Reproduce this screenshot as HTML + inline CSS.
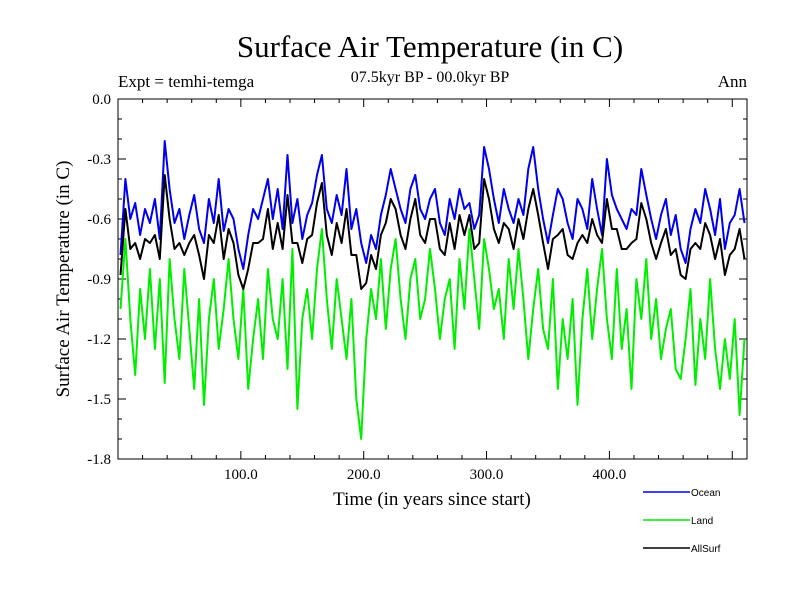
<!DOCTYPE html>
<html><head><meta charset="utf-8"><style>
body{margin:0;background:#fff;}
svg{display:block;font-family:"Liberation Serif",serif;}
</style></head><body>
<svg id="chart" width="800" height="600" viewBox="0 0 800 600">
<rect width="800" height="600" fill="#fff"/>
<text x="430" y="57" font-size="31" text-anchor="middle">Surface Air Temperature (in C)</text>
<text x="118" y="87" font-size="17">Expt = temhi-temga</text>
<text x="430" y="82" font-size="16" text-anchor="middle">07.5kyr BP - 00.0kyr BP</text>
<text x="747" y="87" font-size="17" text-anchor="end">Ann</text>
<text transform="translate(69,279) rotate(-90)" font-size="19" text-anchor="middle">Surface Air Temperature (in C)</text>
<text x="432" y="505" font-size="19" text-anchor="middle">Time (in years since start)</text>
<g id="axes"></g>
<g id="series"></g>
<g id="legend" font-family="Liberation Sans, sans-serif" font-size="10"></g>
</svg>
<script>
const years=[];for(let i=0;i<128;i++)years.push(2+4*i);
const ocean=[-0.78,-0.4,-0.6,-0.52,-0.68,-0.55,-0.62,-0.5,-0.7,-0.21,-0.45,-0.62,-0.55,-0.7,-0.58,-0.48,
-0.65,-0.72,-0.5,-0.62,-0.4,-0.66,-0.55,-0.6,-0.75,-0.85,-0.68,-0.55,-0.6,-0.5,-0.4,-0.6,
-0.45,-0.65,-0.28,-0.62,-0.5,-0.7,-0.58,-0.52,-0.38,-0.28,-0.55,-0.62,-0.48,-0.58,-0.35,-0.65,
-0.55,-0.72,-0.82,-0.68,-0.75,-0.58,-0.48,-0.35,-0.45,-0.55,-0.62,-0.45,-0.38,-0.55,-0.6,-0.5,
-0.45,-0.62,-0.68,-0.5,-0.6,-0.45,-0.55,-0.52,-0.65,-0.58,-0.24,-0.35,-0.5,-0.62,-0.45,-0.55,
-0.62,-0.5,-0.58,-0.35,-0.24,-0.45,-0.6,-0.72,-0.58,-0.45,-0.5,-0.62,-0.7,-0.5,-0.55,-0.65,
-0.4,-0.55,-0.68,-0.3,-0.48,-0.55,-0.6,-0.65,-0.55,-0.58,-0.35,-0.48,-0.6,-0.7,-0.58,-0.5,
-0.68,-0.58,-0.75,-0.82,-0.65,-0.55,-0.62,-0.45,-0.55,-0.68,-0.5,-0.75,-0.62,-0.58,-0.45,-0.62];
const land=[-1.05,-0.7,-1.1,-1.38,-0.95,-1.2,-0.85,-1.25,-0.9,-1.42,-0.8,-1.1,-1.3,-0.85,-1.15,-1.45,
-1.0,-1.53,-1.1,-0.9,-1.25,-1.05,-0.8,-1.1,-1.3,-0.95,-1.45,-1.2,-1.0,-1.3,-0.85,-1.1,
-1.2,-0.9,-1.35,-0.75,-1.55,-1.1,-0.95,-1.2,-0.85,-0.65,-1.0,-1.25,-0.9,-1.1,-1.3,-1.0,
-1.5,-1.7,-1.2,-0.95,-1.1,-0.8,-1.15,-0.85,-0.7,-1.0,-1.2,-0.9,-0.8,-1.1,-1.0,-0.75,
-0.95,-1.2,-1.0,-0.9,-1.25,-0.8,-1.05,-0.65,-0.9,-1.15,-0.7,-0.85,-1.05,-0.95,-1.2,-0.8,
-1.05,-0.75,-1.0,-1.3,-1.05,-0.85,-1.15,-1.25,-0.9,-1.45,-1.1,-1.3,-1.0,-1.53,-1.1,-0.85,
-1.2,-0.95,-0.75,-1.1,-1.3,-0.85,-1.25,-1.05,-1.45,-0.9,-1.1,-0.8,-1.2,-1.0,-1.3,-1.15,
-1.05,-1.35,-1.4,-1.2,-0.95,-1.43,-1.1,-1.3,-0.9,-1.25,-1.45,-1.2,-1.4,-1.1,-1.58,-1.2];
const allsurf=[-0.88,-0.55,-0.75,-0.72,-0.8,-0.7,-0.72,-0.68,-0.8,-0.38,-0.6,-0.75,-0.72,-0.78,-0.72,-0.68,
-0.78,-0.9,-0.68,-0.72,-0.58,-0.8,-0.65,-0.72,-0.88,-0.95,-0.85,-0.72,-0.72,-0.7,-0.55,-0.75,
-0.62,-0.75,-0.48,-0.72,-0.72,-0.82,-0.7,-0.68,-0.52,-0.42,-0.68,-0.78,-0.62,-0.72,-0.55,-0.78,
-0.78,-0.95,-0.92,-0.78,-0.85,-0.68,-0.62,-0.5,-0.55,-0.68,-0.75,-0.6,-0.5,-0.68,-0.72,-0.6,
-0.6,-0.75,-0.78,-0.62,-0.75,-0.58,-0.68,-0.58,-0.75,-0.72,-0.4,-0.5,-0.65,-0.72,-0.62,-0.65,
-0.75,-0.6,-0.7,-0.55,-0.45,-0.58,-0.72,-0.85,-0.7,-0.68,-0.65,-0.78,-0.8,-0.72,-0.68,-0.72,
-0.6,-0.68,-0.72,-0.5,-0.65,-0.65,-0.75,-0.75,-0.72,-0.7,-0.52,-0.6,-0.72,-0.8,-0.72,-0.65,
-0.78,-0.75,-0.88,-0.9,-0.75,-0.72,-0.75,-0.62,-0.68,-0.8,-0.7,-0.88,-0.78,-0.75,-0.65,-0.8];
const yTicks=[0.0,-0.3,-0.6,-0.9,-1.2,-1.5,-1.8];
const yTickLabels=["0.0","-0.3","-0.6","-0.9","-1.2","-1.5","-1.8"];
const xTicks=[100,200,300,400];
const xTickLabels=["100.0","200.0","300.0","400.0"];
const seriesNames=["Ocean","Land","AllSurf"];

const L=118,R=747,T=99,B=459,X0=0,X1=512,Y0=-1.8,Y1=0;
const sx=v=>L+(v-X0)/(X1-X0)*(R-L);
const sy=v=>B-(v-Y0)/(Y1-Y0)*(B-T);
const NS="http://www.w3.org/2000/svg";
function mk(tag,attrs,parent){const e=document.createElementNS(NS,tag);for(const k in attrs)e.setAttribute(k,attrs[k]);parent.appendChild(e);return e;}
const ax=document.getElementById('axes');
const frame=mk('rect',{x:L,y:T,width:R-L,height:B-T,fill:'none',stroke:'#000','stroke-width':1},ax);


for(let v=0;v>=-1.8001;v-=0.1){const y=sy(v);const major=Math.abs(Math.round(v*10)%3)===0;const len=major?8:4;
 const t1=mk('line',{x1:L,x2:L+len,y1:y,y2:y,stroke:'#000'},ax);
 const t2=mk('line',{x1:R-len,x2:R,y1:y,y2:y,stroke:'#000'},ax);}
yTicks.forEach((v,i)=>{const t=mk('text',{x:L-7,y:sy(v)+5,'font-size':15,'text-anchor':'end'},ax);t.textContent=yTickLabels[i];
 });
for(let v=20;v<X1;v+=20){const x=sx(v);const len=v%100===0?8:4;
 const t1=mk('line',{x1:x,x2:x,y1:B,y2:B-len,stroke:'#000'},ax);
 const t2=mk('line',{x1:x,x2:x,y1:T,y2:T+len,stroke:'#000'},ax);}
xTicks.forEach((v,i)=>{const t=mk('text',{x:sx(v),y:B+20,'font-size':15,'text-anchor':'middle'},ax);t.textContent=xTickLabels[i];
 });
const sg=document.getElementById('series');
const colors=["#0000ee","#00ee00","#000000"];
[ocean,land,allsurf].forEach((d,k)=>{const pts=d.map((v,i)=>sx(years[i]).toFixed(1)+','+sy(v).toFixed(1)).join(' ');
 const p=mk('polyline',{points:pts,fill:'none',stroke:colors[k],'stroke-width':2,'stroke-linejoin':'round'},sg);
 
 });
const lg=document.getElementById('legend');
seriesNames.forEach((n,k)=>{const y=492+28*k;
 const l=mk('line',{x1:643,x2:690,y1:y,y2:y,stroke:colors[k],'stroke-width':1.5},lg);
 
 
 const t=mk('text',{x:691,y:y+4},lg);t.textContent=n;
 
 });
</script>
</body></html>
